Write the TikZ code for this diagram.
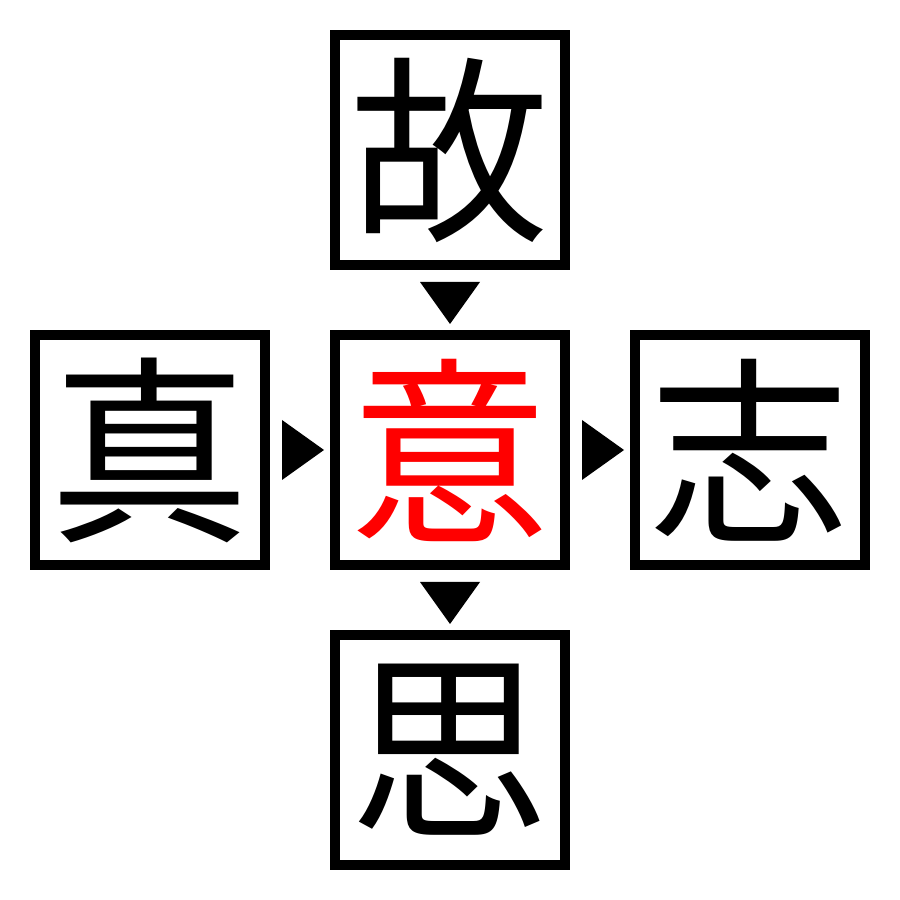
\documentclass[tikz,border=0pt]{standalone}
\usepackage{fontspec}
\newfontfamily\cjk{Noto Sans CJK JP}
\usepackage{xcolor}

\tikzset{
	kanji/.style={draw, line width=0.1cm, minimum size=2.3cm, inner sep=0pt,
		font=\cjk\fontsize{57pt}{57pt}\selectfont}
}

\begin{document}
\begin{tikzpicture}
			\useasboundingbox (0,0) rectangle (9,9);
			
			% Draw the five boxes
			\node[kanji] (gu) at (4.5,7.5) {故};
			\node[kanji] (zhen) at (1.5,4.5) {真};
			\node[kanji, text=red] (yi) at (4.5,4.5) {意};
			\node[kanji] (zhi) at (7.5,4.5) {志};
			\node[kanji] (si) at (4.5,1.5) {思};
			
			% Draw triangles pointing down
			\fill[shift = {(4.5,5.97)}] (-0.3,0.21) -- (0.3,0.21) -- (0,-0.21) -- cycle;
			\fill[shift = {(4.5,2.97)}] (-0.3,0.21) -- (0.3,0.21) -- (0,-0.21) -- cycle;
			
			% Draw triangles pointing right
			\fill[shift = {(3.03,4.5)}] (-0.21,0.3) -- (-0.21,-0.3) -- (0.21,0) -- cycle;
			\fill[shift = {(6.03,4.5)}] (-0.21,0.3) -- (-0.21,-0.3) -- (0.21,0) -- cycle;
\end{tikzpicture}
\end{document}
